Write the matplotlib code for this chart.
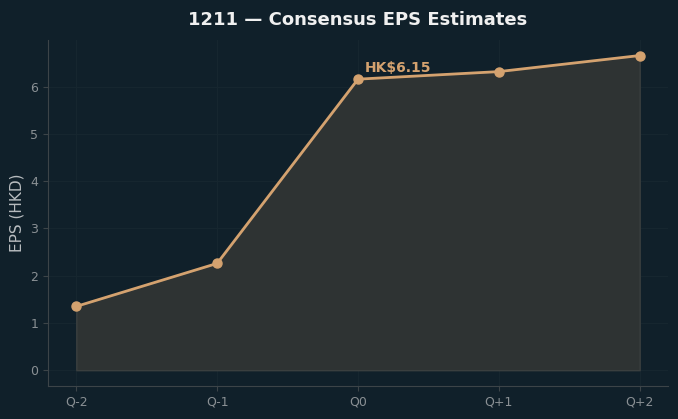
import numpy as np
import matplotlib
matplotlib.use("Agg")
import matplotlib.pyplot as plt

# data
quarters = ["Q-2", "Q-1", "Q0", "Q+1", "Q+2"]
eps = [1.35, 2.26, 6.16, 6.32, 6.66]
current_label = "HK$6.15"

bg = "#10202a"
line_col = "#d4a26f"
fill_col = "#2e3333"
tick_col = "#8a9094"

fig = plt.figure(figsize=(6.78, 4.19), dpi=100, facecolor=bg)
ax = fig.add_axes([0.071, 0.079, 0.914, 0.826])
ax.set_facecolor(bg)

x = np.arange(len(quarters))
ax.fill_between(x, 0, eps, color=fill_col, alpha=1.0, edgecolor="#3a3f3f", linewidth=1, zorder=1)
ax.plot(x, eps, color=line_col, linewidth=2, marker="o", markersize=6.5, zorder=3)

ax.annotate(current_label, (2, eps[2]), xytext=(5, 5), textcoords="offset points",
            color=line_col, fontsize=10, fontweight="bold")

ax.set_xticks(x)
ax.set_xticklabels(quarters)
ax.set_title("1211 \u2014 Consensus EPS Estimates", color="#f0f0f0", fontsize=13,
             fontweight="bold", pad=11)
ax.set_ylabel("EPS (HKD)", color="#b8bcbf", fontsize=11)

ax.grid(True, color="#16262f", linewidth=0.8)
ax.set_axisbelow(True)
for s in ["top", "right"]:
    ax.spines[s].set_visible(False)
for s in ["left", "bottom"]:
    ax.spines[s].set_color("#3c4448")
ax.tick_params(colors=tick_col, labelsize=9)
ax.tick_params(axis="both", color="#3c4448")

fig.savefig("out.png", facecolor=bg)
